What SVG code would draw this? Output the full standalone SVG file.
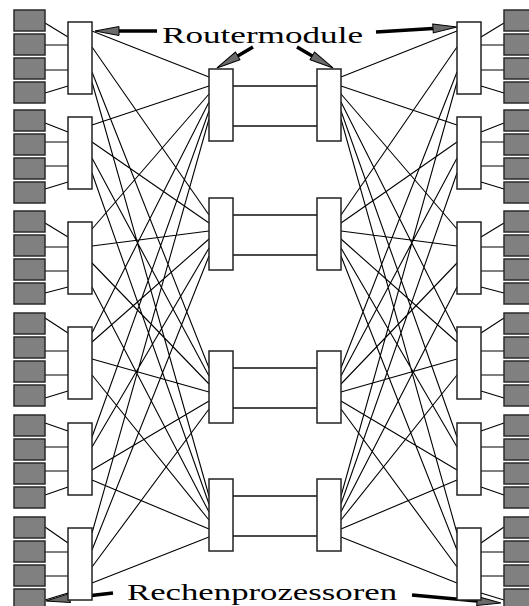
<svg xmlns="http://www.w3.org/2000/svg" width="529" height="606" viewBox="0 0 529 606">
<style>
.proc{fill:#808080;stroke:#2a2a2a;stroke-width:1.5}
.rtr{fill:#fff;stroke:#222;stroke-width:1.5}
.wire{stroke:#000;stroke-width:1.1;fill:none}
.link{stroke:#111;stroke-width:1.3;fill:none}
.arr{stroke:#000;stroke-width:3.5;fill:none}
.lbl{font-family:"Liberation Serif","Times New Roman",serif;font-size:23px;fill:#000}
</style>
<defs>
<marker id="head" markerUnits="userSpaceOnUse" markerWidth="26" markerHeight="12" refX="0" refY="0" orient="auto" style="overflow:visible">
<path d="M0,-4.5 L24,0 L0,4.5 Z" fill="#6a6a6a" stroke="#000" stroke-width="1"/>
</marker>
</defs>
<rect width="529" height="606" fill="#fff"/>
<g id="connectors">
<path class="wire" d="M45,23L68,37M45,45L68,45M45,70L68,70M45,93L68,86
M45,123L68,132M45,142L68,142M45,166L68,166M45,189L68,182
M45,223L68,237M45,247L68,247M45,271L68,271M45,293L68,287
M45,318L68,333M45,351L68,351M45,375L68,375M45,398L68,391
M45,423L68,431M45,447L68,447M45,471L68,471M45,495L68,487
M45,527L68,543M45,552L68,552M45,576L68,576M45,600L68,593"/>
<path class="wire" d="M504,23L481,37M504,45L481,45M504,70L481,70M504,93L481,86
M504,123L481,132M504,142L481,142M504,166L481,166M504,189L481,182
M504,223L481,237M504,247L481,247M504,271L481,271M504,293L481,287
M504,318L481,333M504,351L481,351M504,375L481,375M504,398L481,391
M504,423L481,431M504,447L481,447M504,471L481,471M504,495L481,487
M504,527L481,543M504,552L481,552M504,576L481,576M504,600L481,593"/>
<path class="wire" d="M92,31L209,77M92,47L209,215M92,72L209,368M92,82L209,496
M92,125L209,86M92,142L209,223M92,158L209,376M92,173L209,504
M92,229L209,94M92,246L209,231M92,263L209,384M92,287L209,512
M92,333L209,102M92,342L209,239M92,359L209,392M92,375L209,520
M92,437L209,111M92,447L209,248M92,470L209,401M92,480L209,529
M92,533L209,119M92,550L209,256M92,567L209,409M92,583L209,537"/>
<path class="wire" d="M457,31L341,77M457,47L341,215M457,72L341,368M457,82L341,496
M457,125L341,86M457,142L341,223M457,158L341,376M457,173L341,504
M457,229L341,94M457,246L341,231M457,263L341,384M457,287L341,512
M457,333L341,102M457,342L341,239M457,359L341,392M457,375L341,520
M457,437L341,111M457,447L341,248M457,470L341,401M457,480L341,529
M457,533L341,119M457,550L341,256M457,567L341,409M457,583L341,537"/>
<path class="link" d="M233,86L317,86M233,126L317,126M233,215L317,215M233,255L317,255M233,368L317,368M233,408L317,408M233,496L317,496M233,536L317,536"/>
<line class="arr" x1="157" y1="31" x2="119" y2="31" marker-end="url(#head)"/>
<line class="arr" x1="253" y1="47" x2="237.7" y2="55.9" marker-end="url(#head)"/>
<line class="arr" x1="297" y1="47" x2="312.3" y2="55.9" marker-end="url(#head)"/>
<line class="arr" x1="376" y1="32" x2="433" y2="28.5" marker-end="url(#head)"/>
<line class="arr" x1="113" y1="593" x2="69.8" y2="598.1" marker-end="url(#head)"/>
<line class="arr" x1="412" y1="595" x2="477.1" y2="600.9" marker-end="url(#head)"/>
</g>
<g id="procs-left">
<g id="pL1a"><rect class="proc" x="14" y="10" width="31" height="21"/></g>
<g id="pL1b"><rect class="proc" x="14" y="34" width="31" height="21"/></g>
<g id="pL1c"><rect class="proc" x="14" y="58" width="31" height="21"/></g>
<g id="pL1d"><rect class="proc" x="14" y="82" width="31" height="21"/></g>
<g id="pL2a"><rect class="proc" x="14" y="110" width="31" height="21"/></g>
<g id="pL2b"><rect class="proc" x="14" y="134" width="31" height="21"/></g>
<g id="pL2c"><rect class="proc" x="14" y="158" width="31" height="21"/></g>
<g id="pL2d"><rect class="proc" x="14" y="182" width="31" height="21"/></g>
<g id="pL3a"><rect class="proc" x="14" y="211" width="31" height="21"/></g>
<g id="pL3b"><rect class="proc" x="14" y="235" width="31" height="21"/></g>
<g id="pL3c"><rect class="proc" x="14" y="259" width="31" height="21"/></g>
<g id="pL3d"><rect class="proc" x="14" y="283" width="31" height="21"/></g>
<g id="pL4a"><rect class="proc" x="14" y="313" width="31" height="21"/></g>
<g id="pL4b"><rect class="proc" x="14" y="337" width="31" height="21"/></g>
<g id="pL4c"><rect class="proc" x="14" y="361" width="31" height="21"/></g>
<g id="pL4d"><rect class="proc" x="14" y="385" width="31" height="21"/></g>
<g id="pL5a"><rect class="proc" x="14" y="415" width="31" height="21"/></g>
<g id="pL5b"><rect class="proc" x="14" y="439" width="31" height="21"/></g>
<g id="pL5c"><rect class="proc" x="14" y="463" width="31" height="21"/></g>
<g id="pL5d"><rect class="proc" x="14" y="487" width="31" height="21"/></g>
<g id="pL6a"><rect class="proc" x="14" y="517" width="31" height="21"/></g>
<g id="pL6b"><rect class="proc" x="14" y="541" width="31" height="21"/></g>
<g id="pL6c"><rect class="proc" x="14" y="565" width="31" height="21"/></g>
<g id="pL6d"><rect class="proc" x="14" y="589" width="31" height="21"/></g>
</g>
<g id="procs-right">
<g id="pR1a"><rect class="proc" x="504" y="10" width="31" height="21"/></g>
<g id="pR1b"><rect class="proc" x="504" y="34" width="31" height="21"/></g>
<g id="pR1c"><rect class="proc" x="504" y="58" width="31" height="21"/></g>
<g id="pR1d"><rect class="proc" x="504" y="82" width="31" height="21"/></g>
<g id="pR2a"><rect class="proc" x="504" y="110" width="31" height="21"/></g>
<g id="pR2b"><rect class="proc" x="504" y="134" width="31" height="21"/></g>
<g id="pR2c"><rect class="proc" x="504" y="158" width="31" height="21"/></g>
<g id="pR2d"><rect class="proc" x="504" y="182" width="31" height="21"/></g>
<g id="pR3a"><rect class="proc" x="504" y="211" width="31" height="21"/></g>
<g id="pR3b"><rect class="proc" x="504" y="235" width="31" height="21"/></g>
<g id="pR3c"><rect class="proc" x="504" y="259" width="31" height="21"/></g>
<g id="pR3d"><rect class="proc" x="504" y="283" width="31" height="21"/></g>
<g id="pR4a"><rect class="proc" x="504" y="313" width="31" height="21"/></g>
<g id="pR4b"><rect class="proc" x="504" y="337" width="31" height="21"/></g>
<g id="pR4c"><rect class="proc" x="504" y="361" width="31" height="21"/></g>
<g id="pR4d"><rect class="proc" x="504" y="385" width="31" height="21"/></g>
<g id="pR5a"><rect class="proc" x="504" y="415" width="31" height="21"/></g>
<g id="pR5b"><rect class="proc" x="504" y="439" width="31" height="21"/></g>
<g id="pR5c"><rect class="proc" x="504" y="463" width="31" height="21"/></g>
<g id="pR5d"><rect class="proc" x="504" y="487" width="31" height="21"/></g>
<g id="pR6a"><rect class="proc" x="504" y="517" width="31" height="21"/></g>
<g id="pR6b"><rect class="proc" x="504" y="541" width="31" height="21"/></g>
<g id="pR6c"><rect class="proc" x="504" y="565" width="31" height="21"/></g>
<g id="pR6d"><rect class="proc" x="504" y="589" width="31" height="21"/></g>
</g>
<g id="routers">
<g id="rL1"><rect class="rtr" x="68" y="22" width="24" height="72"/></g>
<g id="rL2"><rect class="rtr" x="68" y="117" width="24" height="72"/></g>
<g id="rL3"><rect class="rtr" x="68" y="222" width="24" height="72"/></g>
<g id="rL4"><rect class="rtr" x="68" y="327" width="24" height="72"/></g>
<g id="rL5"><rect class="rtr" x="68" y="423" width="24" height="72"/></g>
<g id="rL6"><rect class="rtr" x="68" y="528" width="24" height="72"/></g>
<g id="rR1"><rect class="rtr" x="457" y="22" width="24" height="72"/></g>
<g id="rR2"><rect class="rtr" x="457" y="117" width="24" height="72"/></g>
<g id="rR3"><rect class="rtr" x="457" y="222" width="24" height="72"/></g>
<g id="rR4"><rect class="rtr" x="457" y="327" width="24" height="72"/></g>
<g id="rR5"><rect class="rtr" x="457" y="423" width="24" height="72"/></g>
<g id="rR6"><rect class="rtr" x="457" y="528" width="24" height="72"/></g>
<g id="cL1"><rect class="rtr" x="209" y="69" width="24" height="72"/></g>
<g id="cL2"><rect class="rtr" x="209" y="198" width="24" height="72"/></g>
<g id="cL3"><rect class="rtr" x="209" y="351" width="24" height="72"/></g>
<g id="cL4"><rect class="rtr" x="209" y="479" width="24" height="72"/></g>
<g id="cR1"><rect class="rtr" x="317" y="69" width="24" height="72"/></g>
<g id="cR2"><rect class="rtr" x="317" y="198" width="24" height="72"/></g>
<g id="cR3"><rect class="rtr" x="317" y="351" width="24" height="72"/></g>
<g id="cR4"><rect class="rtr" x="317" y="479" width="24" height="72"/></g>
</g>
<g id="labels">
<text class="lbl" x="162" y="43" textLength="201" lengthAdjust="spacingAndGlyphs">Routermodule</text>
<text class="lbl" x="127" y="600" textLength="270" lengthAdjust="spacingAndGlyphs">Rechenprozessoren</text>
</g>
</svg>
